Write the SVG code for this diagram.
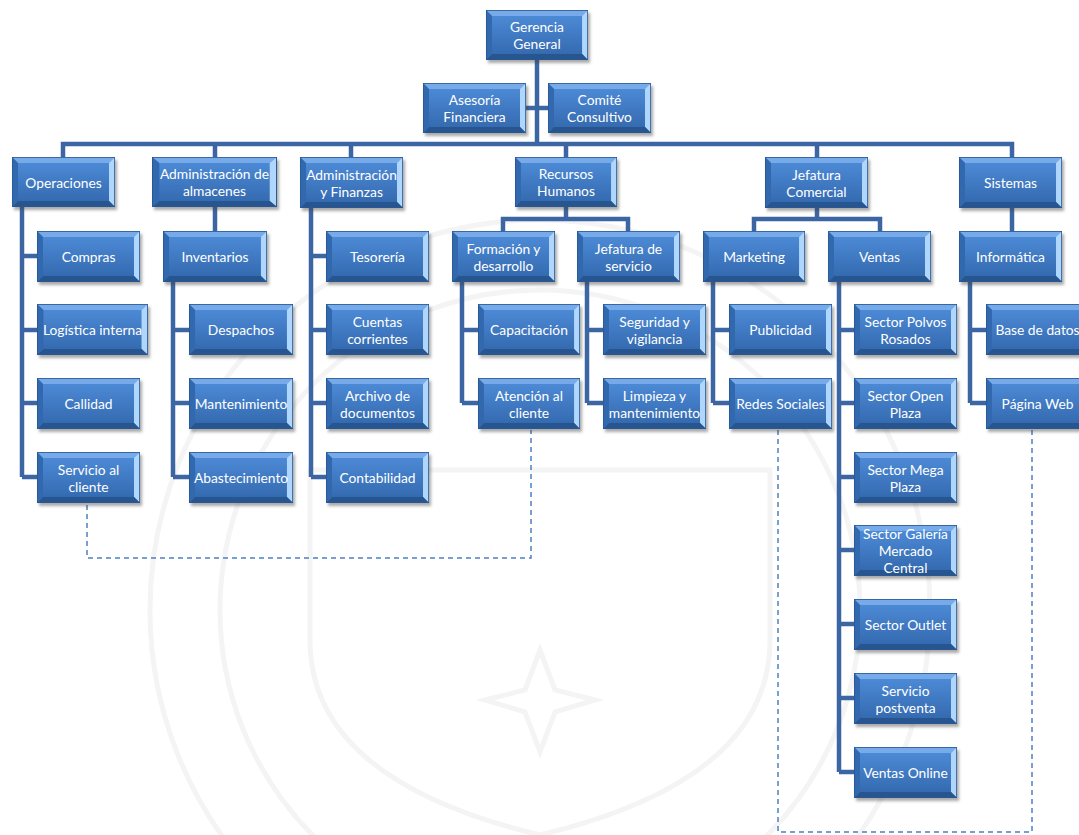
<svg xmlns="http://www.w3.org/2000/svg" xmlns:xlink="http://www.w3.org/1999/xlink" width="1079" height="835" viewBox="0 0 1079 835">
<defs>
<linearGradient id="g" x1="0" y1="0" x2="0" y2="1">
<stop offset="0" stop-color="#508edb"/>
<stop offset="1" stop-color="#3166ab"/>
</linearGradient>
<filter id="sh" x="-10%" y="-10%" width="130%" height="140%">
<feDropShadow dx="2" dy="3" stdDeviation="1.6" flood-color="#404040" flood-opacity="0.45"/>
</filter>
<symbol id="box" viewBox="0 0 103 51" preserveAspectRatio="none">
<rect x="0" y="0" width="103" height="51" fill="url(#g)"/>
<polygon points="0,0 103,0 97,6 6,6" fill="#76aae8"/>
<polygon points="103,0 103,51 97,45 97,6" fill="#afd6fc"/>
<polygon points="0,51 103,51 97,45 6,45" fill="#25558f"/>
<polygon points="0,0 6,6 6,45 0,51" fill="#3369ae"/>
<rect x="0.4" y="0.4" width="102.2" height="50.2" fill="none" stroke="#2b5791" stroke-width="0.8"/>
</symbol>
<style>
.n use{filter:url(#sh)}
.n text{font-family:Lato,"Open Sans","Liberation Sans",sans-serif;font-size:13.8px;fill:#ffffff;text-anchor:middle;dominant-baseline:central}
.c path{fill:none;stroke:#3c66a3;stroke-width:4.5;stroke-linejoin:miter}
.d path{fill:none;stroke:#4c7fc4;stroke-width:1.5;stroke-dasharray:5 4}
.wm{fill:none;stroke:#f4f4f4;stroke-width:5}
</style>
</defs>
<rect width="1079" height="835" fill="#ffffff"/>
<g id="watermark">
<circle class="wm" cx="540" cy="610" r="390"/>
<circle class="wm" cx="540" cy="610" r="320"/>
<path class="wm" d="M310 470 L770 470 L770 640 Q770 780 540 835 Q310 780 310 640 Z"/>
<path class="wm" d="M540 650 L555 690 L595 700 L555 712 L540 752 L525 712 L485 700 L525 690 Z"/>
</g>
<g id="connectors" class="c">
<path d="M537 60 V144"/>
<path d="M526 108 H548"/>
<path d="M63 160 V144 H1012 V160"/>
<path d="M215 144 V160 M351 144 V160 M566 144 V160 M817 144 V160"/>
<path d="M22 207 V477 M22 256 H40 M22 330 H40 M22 403 H40 M22 477 H40"/>
<path d="M215 207 V234"/>
<path d="M173 282 V477 M173 330 H192 M173 403 H192 M173 477 H192"/>
<path d="M311 208 V477 M311 256 H329 M311 330 H329 M311 403 H329 M311 477 H329"/>
<path d="M566 207 V219 M503 234 V219 H628 V234"/>
<path d="M462 282 V403 M462 330 H481 M462 403 H481"/>
<path d="M587 282 V403 M587 330 H606 M587 403 H606"/>
<path d="M817 208 V219 M754 234 V219 H880 V234"/>
<path d="M713 282 V403 M713 330 H732 M713 403 H732"/>
<path d="M839 282 V772 M839 330 H857 M839 403 H857 M839 477 H857 M839 550 H857 M839 624 H857 M839 698 H857 M839 772 H857"/>
<path d="M1012 208 V234"/>
<path d="M970 282 V403 M970 330 H989 M970 403 H989"/>
</g>
<g id="dashed" class="d">
<path d="M87 505 V558 H531 V430"/>
<path d="M778 430 V832 H1032 V430"/>
</g>
<g class="n">
<g id="gerencia"><use xlink:href="#box" x="486" y="10" width="102" height="50"/><text x="537" y="26.5">Gerencia</text><text x="537" y="43.5">General</text></g>
<g id="asesoria"><use xlink:href="#box" x="423" y="83" width="103" height="50"/><text x="474.5" y="99.5">Asesoría</text><text x="474.5" y="116.5">Financiera</text></g>
<g id="comite"><use xlink:href="#box" x="548" y="83" width="103" height="50"/><text x="599.5" y="99.5">Comité</text><text x="599.5" y="116.5">Consultivo</text></g>
<g id="operaciones"><use xlink:href="#box" x="12" y="157" width="103" height="50"/><text x="63.5" y="182">Operaciones</text></g>
<g id="adm-almacenes"><use xlink:href="#box" x="152" y="157" width="125" height="50"/><text x="214.5" y="173.5">Administración de</text><text x="214.5" y="190.5">almacenes</text></g>
<g id="adm-finanzas"><use xlink:href="#box" x="300" y="157" width="103" height="51"/><text x="351.5" y="174">Administración</text><text x="351.5" y="191">y Finanzas</text></g>
<g id="rrhh"><use xlink:href="#box" x="515" y="157" width="102" height="50"/><text x="566" y="173.5">Recursos</text><text x="566" y="190.5">Humanos</text></g>
<g id="jef-comercial"><use xlink:href="#box" x="765" y="157" width="103" height="51"/><text x="816.5" y="174">Jefatura</text><text x="816.5" y="191">Comercial</text></g>
<g id="sistemas"><use xlink:href="#box" x="959" y="157" width="103" height="51"/><text x="1010.5" y="182.5">Sistemas</text></g>
<g id="compras"><use xlink:href="#box" x="37" y="231" width="103" height="51"/><text x="88.5" y="256.5">Compras</text></g>
<g id="logistica"><use xlink:href="#box" x="37" y="304" width="111" height="51"/><text x="92.5" y="329.5">Logística interna</text></g>
<g id="callidad"><use xlink:href="#box" x="37" y="378" width="103" height="51"/><text x="88.5" y="403.5">Callidad</text></g>
<g id="servicio-cliente"><use xlink:href="#box" x="37" y="452" width="103" height="51"/><text x="88.5" y="469">Servicio al</text><text x="88.5" y="486">cliente</text></g>
<g id="inventarios"><use xlink:href="#box" x="163" y="231" width="104" height="51"/><text x="215" y="256.5">Inventarios</text></g>
<g id="despachos"><use xlink:href="#box" x="189" y="304" width="104" height="51"/><text x="241" y="329.5">Despachos</text></g>
<g id="mantenimiento"><use xlink:href="#box" x="189" y="378" width="104" height="51"/><text x="241" y="403.5">Mantenimiento</text></g>
<g id="abastecimiento"><use xlink:href="#box" x="189" y="452" width="104" height="51"/><text x="241" y="477.5">Abastecimiento</text></g>
<g id="tesoreria"><use xlink:href="#box" x="326" y="231" width="103" height="51"/><text x="377.5" y="256.5">Tesorería</text></g>
<g id="cuentas"><use xlink:href="#box" x="326" y="304" width="103" height="51"/><text x="377.5" y="321">Cuentas</text><text x="377.5" y="338">corrientes</text></g>
<g id="archivo"><use xlink:href="#box" x="326" y="378" width="103" height="51"/><text x="377.5" y="395">Archivo de</text><text x="377.5" y="412">documentos</text></g>
<g id="contabilidad"><use xlink:href="#box" x="326" y="452" width="103" height="51"/><text x="377.5" y="477.5">Contabilidad</text></g>
<g id="formacion"><use xlink:href="#box" x="452" y="231" width="103" height="51"/><text x="503.5" y="248">Formación y</text><text x="503.5" y="265">desarrollo</text></g>
<g id="jef-servicio"><use xlink:href="#box" x="577" y="231" width="103" height="51"/><text x="628.5" y="248">Jefatura de</text><text x="628.5" y="265">servicio</text></g>
<g id="capacitacion"><use xlink:href="#box" x="478" y="304" width="102" height="51"/><text x="529" y="329.5">Capacitación</text></g>
<g id="atencion"><use xlink:href="#box" x="478" y="378" width="102" height="51"/><text x="529" y="395">Atención al</text><text x="529" y="412">cliente</text></g>
<g id="seguridad"><use xlink:href="#box" x="603" y="304" width="103" height="51"/><text x="654.5" y="321">Seguridad y</text><text x="654.5" y="338">vigilancia</text></g>
<g id="limpieza"><use xlink:href="#box" x="603" y="378" width="103" height="51"/><text x="654.5" y="395">Limpieza y</text><text x="654.5" y="412">mantenimiento</text></g>
<g id="marketing"><use xlink:href="#box" x="703" y="231" width="102" height="51"/><text x="754" y="256.5">Marketing</text></g>
<g id="ventas"><use xlink:href="#box" x="828" y="231" width="103" height="51"/><text x="879.5" y="256.5">Ventas</text></g>
<g id="publicidad"><use xlink:href="#box" x="729" y="304" width="103" height="51"/><text x="780.5" y="329.5">Publicidad</text></g>
<g id="redes"><use xlink:href="#box" x="729" y="378" width="103" height="51"/><text x="780.5" y="403.5">Redes Sociales</text></g>
<g id="polvos"><use xlink:href="#box" x="854" y="304" width="103" height="51"/><text x="905.5" y="321">Sector Polvos</text><text x="905.5" y="338">Rosados</text></g>
<g id="open-plaza"><use xlink:href="#box" x="854" y="378" width="103" height="51"/><text x="905.5" y="395">Sector Open</text><text x="905.5" y="412">Plaza</text></g>
<g id="mega-plaza"><use xlink:href="#box" x="854" y="452" width="103" height="51"/><text x="905.5" y="469">Sector Mega</text><text x="905.5" y="486">Plaza</text></g>
<g id="galeria"><use xlink:href="#box" x="854" y="525" width="103" height="51"/><text x="905.5" y="533.5">Sector Galería</text><text x="905.5" y="550.5">Mercado</text><text x="905.5" y="567.5">Central</text></g>
<g id="outlet"><use xlink:href="#box" x="854" y="599" width="103" height="51"/><text x="905.5" y="624.5">Sector Outlet</text></g>
<g id="postventa"><use xlink:href="#box" x="854" y="673" width="103" height="51"/><text x="905.5" y="690">Servicio</text><text x="905.5" y="707">postventa</text></g>
<g id="online"><use xlink:href="#box" x="854" y="747" width="103" height="51"/><text x="905.5" y="772.5">Ventas Online</text></g>
<g id="informatica"><use xlink:href="#box" x="959" y="231" width="103" height="51"/><text x="1010.5" y="256.5">Informática</text></g>
<g id="base-datos"><use xlink:href="#box" x="986" y="304" width="103" height="51"/><text x="1037.5" y="329.5">Base de datos</text></g>
<g id="pagina-web"><use xlink:href="#box" x="986" y="378" width="103" height="51"/><text x="1037.5" y="403.5">Página Web</text></g>
</g>
</svg>
